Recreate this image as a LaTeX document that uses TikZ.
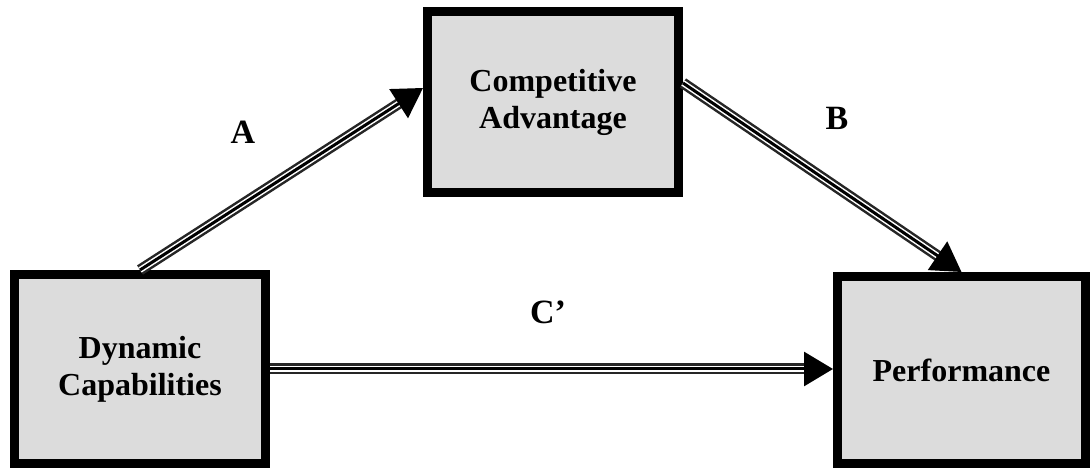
\documentclass[tikz,border=0pt]{standalone}
\usepackage{fontspec}
\setmainfont{Liberation Serif}
\usetikzlibrary{arrows.meta}
\definecolor{boxgray}{RGB}{220,220,220}

\begin{document}
\begin{tikzpicture}[
    x=0.5pt, y=0.5pt,
    block/.style={rectangle, draw=black, fill=boxgray, line width=4.5pt, align=center, inner sep=0pt, minimum width=125.5pt, minimum height=94.5pt, font=\bfseries\fontsize{16}{18.5}\selectfont},
    lbl/.style={font=\bfseries\fontsize{17}{19}\selectfont},
    link/.style={draw=black!85, line width=5.5pt, shorten >=10pt,
      postaction={draw=white, line width=3pt, shorten >=10pt},
      postaction={draw=black, line width=1.5pt, shorten >=0pt, -{Triangle[length=14.5pt,width=17pt]}}}
  ]
    \useasboundingbox (0,0) rectangle (1092,470);

    \node[block] (dyn) at (140,101) {Dynamic\\Capabilities};
    \node[block, minimum height=90.5pt] (comp) at (553,368) {Competitive\\Advantage};
    \node[block, minimum width=124pt, minimum height=93.5pt] (perf) at (961.5,100) {\raisebox{-6.5pt}{Performance}};

    \node[lbl] (labA) at (243,338) {A};
    \node[lbl] (labB) at (837,352) {B};
    \node[lbl] (labC) at (548,158) {C’};

    \draw[link] (dyn.north) -- ([yshift=7pt]comp.west);
    \draw[link] ([yshift=9.5pt]comp.east) -- (perf.north);
    \draw[link] (dyn.east) -- (dyn.east -| perf.west);
\end{tikzpicture}
\end{document}
